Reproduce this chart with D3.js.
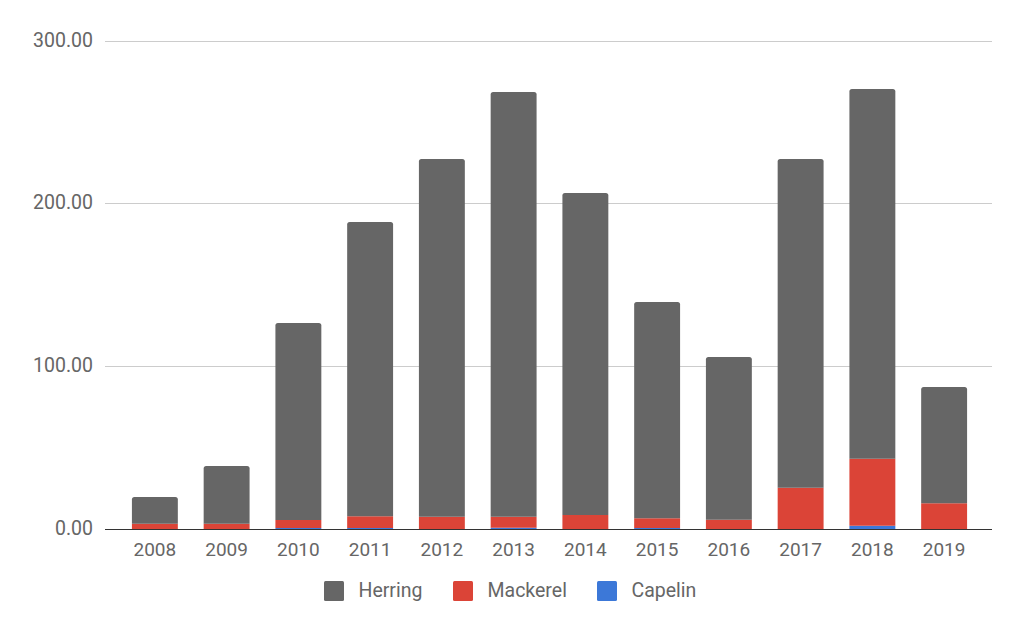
<!DOCTYPE html>
<html>
<head>
<meta charset="utf-8">
<script src="https://cdn.jsdelivr.net/npm/d3@7"></script>
<style>
  html, body { margin: 0; padding: 0; background: #fff; }
  svg { display: block; font-family: Roboto, "Noto Sans", sans-serif; }
</style>
</head>
<body>
<svg id="chart" width="1024" height="633"></svg>
<script>
const years = ["2008","2009","2010","2011","2012","2013","2014","2015","2016","2017","2018","2019"];
const capelin  = [0, 0, 0.6, 0.6, 0, 0.8, 0, 0.6, 0, 0, 2.0, 0];
const mackerel = [3.3, 3.3, 4.9, 7.2, 7.6, 6.8, 8.6, 6.0, 5.7, 25.4, 41.2, 15.8];
const herring  = [16.4, 35.4, 121.1, 180.9, 219.9, 261.0, 198.0, 132.9, 100.0, 202.1, 227.3, 71.5];
const yTicks = [0, 100, 200, 300];
const seriesNames = ["Herring", "Mackerel", "Capelin"];
const colors = { Herring: "#666666", Mackerel: "#db4437", Capelin: "#3c78d8" };

const svg = d3.select("#chart");
const x = d3.scaleBand().domain(years).range([119, 980]).paddingInner(0.36).paddingOuter(0.18);
const y = d3.scaleLinear().domain([0, 300]).range([529, 41]);

const rows = years.map((yr, i) => ({ year: yr, Capelin: capelin[i], Mackerel: mackerel[i], Herring: herring[i] }));
const stack = d3.stack().keys(["Capelin", "Mackerel", "Herring"]);
const layers = stack(rows);

// gridlines
svg.append("g").selectAll("line").data(yTicks.filter(t => t > 0)).join("line")
  .attr("x1", 105).attr("x2", 992)
  .attr("y1", d => y(d)).attr("y2", d => y(d))
  .attr("stroke", "#cccccc").attr("stroke-width", 1).attr("shape-rendering", "crispEdges");

// y labels
svg.append("g").selectAll("text").data(yTicks).join("text")
  .attr("x", 93).attr("y", d => y(d) - 1).attr("dy", "0.35em")
  .attr("text-anchor", "end").attr("font-size", 19.5).attr("fill", "#666")
  .text(d => d3.format(".2f")(d));

// bars
function topRoundedPath(x0, w, yTop, yBot, r) {
  r = Math.min(r, (yBot - yTop), w / 2);
  return `M${x0},${yBot}V${yTop + r}Q${x0},${yTop} ${x0 + r},${yTop}H${x0 + w - r}Q${x0 + w},${yTop} ${x0 + w},${yTop + r}V${yBot}Z`;
}
const gBars = svg.append("g");
layers.forEach(layer => {
  const key = layer.key;
  gBars.append("g").selectAll("path").data(layer.filter(d => d[1] > d[0])).join("path")
    .attr("fill", colors[key])
    .attr("d", d => {
      const x0 = x(d.data.year), w = x.bandwidth();
      const yTop = y(d[1]), yBot = y(d[0]);
      if (key === "Herring") return topRoundedPath(x0, w, yTop, yBot, 2.5);
      return `M${x0},${yBot}V${yTop}H${x0 + w}V${yBot}Z`;
    });
});

// x axis baseline
svg.append("line").attr("x1", 105).attr("x2", 992).attr("y1", 529.5).attr("y2", 529.5)
  .attr("stroke", "#333").attr("stroke-width", 1.2);

// x labels
svg.append("g").selectAll("text").data(years).join("text")
  .attr("x", d => x(d) + x.bandwidth() / 2).attr("y", 556)
  .attr("text-anchor", "middle").attr("font-size", 19).attr("fill", "#666")
  .text(d => d);

// legend
const legendItems = [
  { name: "Herring", sx: 324 },
  { name: "Mackerel", sx: 453 },
  { name: "Capelin", sx: 597 }
];
const lg = svg.append("g");
legendItems.forEach(it => {
  lg.append("rect").attr("x", it.sx).attr("y", 581).attr("width", 20).attr("height", 20)
    .attr("rx", 1.5).attr("fill", colors[it.name]);
  lg.append("text").attr("x", it.sx + 34.5).attr("y", 597)
    .attr("font-size", 19.5).attr("fill", "#666").text(it.name);
});
</script>
</body>
</html>
